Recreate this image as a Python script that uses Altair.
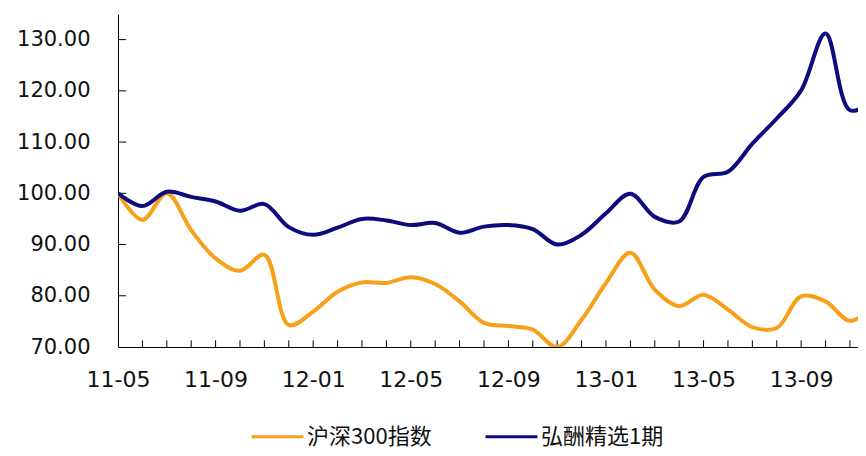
import altair as alt
import pandas as pd

months = ["11-05", "11-06", "11-07", "11-08", "11-09", "11-10", "11-11", "11-12",
          "12-01", "12-02", "12-03", "12-04", "12-05", "12-06", "12-07", "12-08",
          "12-09", "12-10", "12-11", "12-12", "13-01", "13-02", "13-03", "13-04",
          "13-05", "13-06", "13-07", "13-08", "13-09", "13-10", "13-11", "13-12"]

hs300 = [100.0, 94.8, 100.0, 92.8, 87.3, 84.9, 88.0, 74.3, 76.9, 80.8, 82.6, 82.5,
         83.6, 82.3, 78.9, 74.7, 74.1, 73.4, 70.0, 75.3, 82.5, 88.4, 81.2, 78.0,
         80.2, 77.3, 73.9, 73.7, 79.9, 78.9, 75.1, 78.0]

hongchou = [100.0, 97.5, 100.3, 99.3, 98.4, 96.6, 97.9, 93.4, 91.9, 93.3, 95.0, 94.7,
            93.8, 94.2, 92.3, 93.5, 93.8, 93.0, 90.0, 91.9, 96.1, 99.9, 95.4, 94.5,
            103.2, 104.2, 109.7, 114.6, 120.1, 131.2, 116.2, 118.0]

series_names = ["沪深300指数", "弘酬精选1期"]
series_colors = ["#F7A11A", "#0C0C7E"]

label_months = [0, 4, 8, 12, 16, 20, 24, 28]
y_ticks = [70, 80, 90, 100, 110, 120, 130]

rows = []
for i, m in enumerate(months):
    rows.append({"x": i, "month": m, "value": hs300[i], "series": series_names[0]})
    rows.append({"x": i, "month": m, "value": hongchou[i], "series": series_names[1]})
df = pd.DataFrame(rows)

xticks_df = pd.DataFrame({"x": list(range(1, 31)), "y": [70.0] * 30, "y2": [71.3] * 30})
yticks_df = pd.DataFrame({"y": y_ticks[1:], "x": [0.0] * 6, "x2": [0.33] * 6})

label_expr = "[" + ",".join("'%s'" % m for m in months) + "][datum.value]"

x_scale = alt.Scale(domain=[0, 30.33], nice=False, zero=False)
y_scale = alt.Scale(domain=[70, 135], nice=False, zero=False)

x_axis = alt.Axis(values=label_months, labelExpr=label_expr, title=None, grid=False,
                  ticks=False, tickSize=0, labelPadding=22, labelFlush=False,
                  labelOverlap=False, labelFont="DejaVu Sans", labelFontSize=22,
                  labelColor="#111111", domainColor="#000000", domainWidth=1)
y_axis = alt.Axis(values=y_ticks, format=".2f", title=None, grid=False,
                  ticks=False, tickSize=0, labelPadding=28, labelFont="DejaVu Sans",
                  labelFontSize=21, labelColor="#111111", domainColor="#000000",
                  domainWidth=1)

lines = alt.Chart(df).mark_line(
    interpolate="catmull-rom", strokeWidth=4, clip=True
).encode(
    x=alt.X("x:Q", scale=x_scale, axis=x_axis),
    y=alt.Y("value:Q", scale=y_scale, axis=y_axis),
    color=alt.Color(
        "series:N",
        scale=alt.Scale(domain=series_names, range=series_colors),
        legend=alt.Legend(
            orient="none", legendX=132, legendY=395, direction="horizontal",
            title=None, symbolType="stroke", symbolSize=2704, symbolStrokeWidth=3,
            labelFont="Noto Sans CJK SC", labelFontSize=22, labelOffset=2,
            columnPadding=47, padding=0, labelColor="#111111", labelLimit=300,
        ),
    ),
    detail="series:N",
)

xt = alt.Chart(xticks_df).mark_rule(color="#000000", strokeWidth=1).encode(
    x=alt.X("x:Q", scale=x_scale, axis=x_axis),
    y=alt.Y("y:Q", scale=y_scale, axis=y_axis),
    y2="y2:Q",
)

yt = alt.Chart(yticks_df).mark_rule(color="#000000", strokeWidth=1).encode(
    x=alt.X("x:Q", scale=x_scale, axis=x_axis),
    x2="x2:Q",
    y=alt.Y("y:Q", scale=y_scale, axis=y_axis),
)

chart = alt.layer(xt, yt, lines).properties(
    width=740, height=333,
    autosize=alt.AutoSizeParams(type="none"),
    padding={"left": 110, "top": 6, "right": 0, "bottom": 101},
    background="#ffffff",
).configure_view(stroke=None)

chart.save("out.html", embed_options={"renderer": "svg", "actions": False})
